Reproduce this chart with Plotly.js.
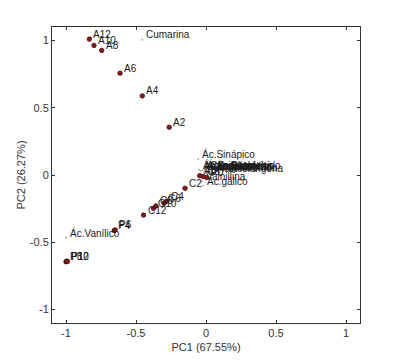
<!DOCTYPE html>
<html>
<head>
<meta charset="utf-8">
<script src="https://cdn.plot.ly/plotly-3.0.1.min.js"></script>
<style>html,body{margin:0;padding:0;background:#fff;}#chart{width:398px;height:363px;}</style>
</head>
<body>
<div id="chart"></div>
<script>
// Sample scores
const sampleNames = ["A2","A4","A6","A8","A10","A12",
                     "C2","C4","C6","C8","C10","C12",
                     "P4","P6","P8","P10","P12",
                     "A0","C0","P0"];
const samplePC1 = [-0.263,-0.455,-0.614,-0.745,-0.800,-0.833,
                   -0.150,-0.280,-0.300,-0.358,-0.375,-0.446,
                   -0.655,-0.648,-1.000,-0.995,-0.990,
                   -0.045,-0.020,0.005];
const samplePC2 = [0.355,0.588,0.757,0.926,0.963,1.010,
                   -0.099,-0.194,-0.210,-0.230,-0.248,-0.298,
                   -0.412,-0.408,-0.645,-0.640,-0.642,
                   -0.005,-0.012,-0.018];

// Variable loadings
const varNames = ["Cumarina","Ác.Sinápico","Ác.Vanílico","Ác.gálico","Vainillina",
                  "Ác.Ferúlico","Ác.Cafeico","Ác.p-Cumárico","Siringaldehído",
                  "Coniferaldehído","Sinapaldehído","Ác.Siríngico","Acetosiringona"];
const varPC1 = [-0.455,-0.055,-1.000,-0.020,-0.030,
                -0.050,-0.040,-0.025,-0.015,
                0.000,0.020,0.040,0.050];
const varPC2 = [1.005,0.117,-0.465,-0.080,-0.045,
                0.040,0.030,0.035,0.025,
                0.030,0.020,0.028,0.012];

const font = "Liberation Sans, Arial, sans-serif";

const traces = [
  {
    x: varPC1, y: varPC2,
    type: "scatter", mode: "markers",
    marker: {size: 2, color: "#aaaaaa"},
    cliponaxis: false, hoverinfo: "none"
  },
  {
    x: samplePC1, y: samplePC2,
    type: "scatter", mode: "markers",
    marker: {size: 4.5, color: "#8b1a1a", line: {color: "#2b0505", width: 0.7}},
    cliponaxis: false, hoverinfo: "none"
  }
];

function labels(xs, ys, names) {
  return names.map((t, i) => ({
    x: xs[i], y: ys[i], xref: "x", yref: "y", text: t,
    showarrow: false, xanchor: "left", yanchor: "middle",
    xshift: 3, yshift: 5, borderpad: 0,
    font: {family: font, size: 10, color: "#1a1a1a"}
  }));
}

const axisCommon = {
  range: [-1.1, 1.1],
  tickvals: [-1, -0.5, 0, 0.5, 1],
  ticktext: ["-1", "-0.5", "0", "0.5", "1"],
  ticks: "inside", ticklen: 3, tickcolor: "#333",
  showline: true, linecolor: "#333", linewidth: 1, mirror: "ticks",
  showgrid: false, zeroline: false,
  tickfont: {family: font, size: 11, color: "#333"}
};

const layout = {
  width: 398, height: 363,
  margin: {l: 52, r: 38, t: 27, b: 40},
  paper_bgcolor: "#fff", plot_bgcolor: "#fff",
  showlegend: false,
  annotations: labels(varPC1, varPC2, varNames).concat(labels(samplePC1, samplePC2, sampleNames)),
  xaxis: Object.assign({}, axisCommon, {
    title: {text: "PC1 (67.55%)", font: {family: font, size: 11, color: "#333"}, standoff: 5}
  }),
  yaxis: Object.assign({}, axisCommon, {
    title: {text: "PC2 (26.27%)", font: {family: font, size: 11, color: "#333"}, standoff: 1}
  })
};

Plotly.newPlot("chart", traces, layout, {displayModeBar: false, staticPlot: true});
</script>
</body>
</html>
